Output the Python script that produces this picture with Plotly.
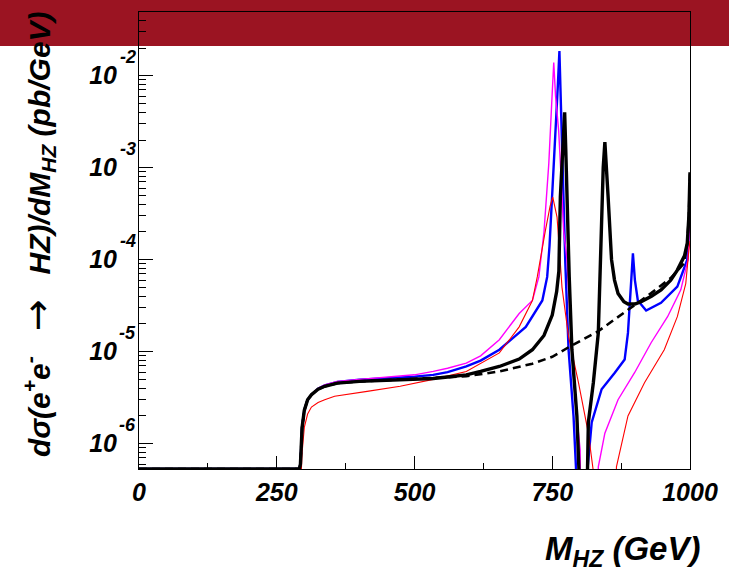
import numpy as np
import plotly.graph_objects as go

# ---------------- data ----------------
m_sm = [0, 291, 293, 296, 300, 306, 313, 325, 337, 360, 400, 450, 500, 550, 594, 654, 714, 750,
        780, 833, 893, 929, 965, 989, 995, 998, 1000]
y_sm = [0, 0, 6e-7, 1.5e-6, 2.3e-6, 3.0e-6, 3.4e-6, 3.9e-6, 4.2e-6, 4.55e-6, 4.75e-6, 4.9e-6, 5.0e-6,
        5.2e-6, 5.4e-6, 6.1e-6, 7.4e-6, 8.8e-6, 1.12e-5, 1.66e-5, 2.97e-5, 4.3e-5, 6.3e-5, 9.1e-5,
        1.5e-4, 3e-4, 8.5e-4]

m_black = [0, 291, 293, 296, 300, 306, 313, 325, 337, 360, 400, 450, 500, 534, 560, 594, 620, 654,
           690, 714, 735, 750, 758, 762, 764.7, 769, 772.5, 774.5, 776.7, 779.6, 780.8, 785.7, 794.7,
           800, 803, 806, 815.5, 824.6, 833.6, 836.5, 839.5, 842.5, 845.5, 848.5, 851.4, 857.6, 863,
           869.4, 880, 887.4, 900, 911.4, 930, 947.4, 965, 977, 990, 995, 998, 1000]
y_black = [0, 0, 6e-7, 1.5e-6, 2.3e-6, 3.0e-6, 3.4e-6, 3.9e-6, 4.2e-6, 4.55e-6, 4.75e-6, 4.9e-6,
           5.0e-6, 5.1e-6, 5.3e-6, 5.6e-6, 6.1e-6, 6.9e-6, 8.3e-6, 1.05e-5, 1.5e-5, 2.5e-5, 4.5e-5,
           7.5e-5, 4.8e-4, 1.6e-3, 4.0e-3, 1.6e-3, 4.8e-4, 1.27e-4, 6.5e-5, 1.05e-5, 2e-6, 3e-7, 1e-9,
           1e-9, 1.7e-6, 4.6e-6, 1.6e-5, 6.5e-5, 4.8e-4, 1.0e-3, 1.9e-3, 1.0e-3, 4.8e-4, 1.0e-4,
           6e-5, 4.3e-5, 3.5e-5, 3.3e-5, 3.3e-5, 3.5e-5, 4.0e-5, 4.7e-5, 6.0e-5, 7.7e-5, 1.1e-4,
           1.5e-4, 3e-4, 8.9e-4]

m_blue = [0, 291, 293, 296, 300, 306, 313, 325, 337, 360, 400, 450, 500, 534, 560, 594, 620, 654,
          680, 702, 732, 740.8, 745, 750, 755.7, 760, 763, 765.5, 767.7, 770.5, 773.7, 779.6, 788.6,
          793, 800, 810, 814.4, 821.6, 839.6, 863.5, 881.4, 887.4, 893.5, 896.4, 900, 905.3, 920.4,
          947.4, 977, 995, 998, 1000]
y_blue = [0, 0, 6e-7, 1.5e-6, 2.3e-6, 3.0e-6, 3.4e-6, 3.95e-6, 4.3e-6, 4.7e-6, 4.95e-6, 5.15e-6,
          5.35e-6, 5.6e-6, 6.0e-6, 6.9e-6, 8.0e-6, 1.05e-5, 1.45e-5, 1.86e-5, 3.6e-5, 6.5e-5,
          1.4e-4, 4.8e-4, 2.5e-3, 7.5e-3, 1.86e-2, 5.0e-3, 1.1e-3, 3.2e-4, 9.2e-5, 1.05e-5, 2e-6,
          5.6e-7, 1e-9, 1e-9, 5.6e-7, 1.7e-6, 3.9e-6, 5.9e-6, 8.2e-6, 1.6e-5, 5.5e-5, 1.17e-4,
          6e-5, 3.6e-5, 2.8e-5, 3.4e-5, 5.1e-5, 1.0e-4, 2e-4, 6.1e-4]

m_magenta = [0, 291, 293, 296, 300, 306, 313, 325, 337, 360, 400, 450, 500, 534, 560, 594, 620, 654,
             690, 714, 725.7, 735, 743.7, 749, 752.7, 756, 761.7, 766, 770.6, 776.7, 784, 791.6,
             800.6, 806, 828, 833.6, 845.5, 869.4, 899.4, 929.4, 959.3, 983.3, 996.4, 1000]
y_magenta = [0, 0, 6e-7, 1.5e-6, 2.3e-6, 3.0e-6, 3.45e-6, 4.0e-6, 4.35e-6, 4.75e-6, 5.0e-6, 5.3e-6,
             5.6e-6, 6.1e-6, 6.6e-6, 7.5e-6, 9.0e-6, 1.35e-5, 2.6e-5, 3.6e-5, 6.5e-5, 2e-4,
             1.1e-3, 5e-3, 1.39e-2, 6e-3, 2.5e-3, 8e-4, 2.1e-4, 1.0e-4, 1.5e-5, 3e-6, 8.6e-7, 1e-9,
             1e-9, 5.6e-7, 1.3e-6, 3e-6, 5.9e-6, 1.25e-5, 2.4e-5, 4.7e-5, 1e-4, 2.9e-4]

m_red = [0, 291, 293, 296, 300, 306, 313, 325, 337, 355, 414, 474, 534, 594, 654, 690, 714, 722.8,
         737.7, 746, 750.9, 755, 758.7, 764.7, 767.7, 779.6, 797.6, 815.5, 824.6, 830, 862, 866.5,
         887.4, 917.4, 953.3, 977, 992.3, 998, 1000]
y_red = [0, 0, 3e-7, 8e-7, 1.5e-6, 2.1e-6, 2.5e-6, 2.8e-6, 3.0e-6, 3.27e-6, 3.7e-6, 4.2e-6, 5.0e-6,
         6.1e-6, 9.7e-6, 1.86e-5, 3.6e-5, 6.5e-5, 2.1e-4, 3.8e-4, 4.8e-4, 3.8e-4, 2.9e-4, 9.2e-5,
         5e-5, 1.46e-5, 4.6e-6, 1.3e-6, 5e-7, 1e-9, 1e-9, 5.6e-7, 2e-6, 4.6e-6, 1.05e-5, 2.4e-5,
         5.5e-5, 1.27e-4, 1.6e-4]

x_ticks = [0, 250, 500, 750, 1000]
y_ticks = [1e-6, 1e-5, 1e-4, 1e-3, 1e-2]
y_tick_base = ["10", "10", "10", "10", "10"]
y_tick_exp = ["-6", "-5", "-4", "-3", "-2"]

YMIN, YMAX = 5.3e-7, 0.0493

# ---------------- figure ----------------
FONT = "Liberation Sans"


def floor_empty(v):
    # empty bins are drawn on the bottom of the frame, as ROOT does
    v = np.asarray(v, dtype=float)
    return np.where(v <= 0, YMIN, v)


fig = go.Figure()
series = [
    (m_blue, y_blue, dict(color="#0000ff", width=2.4)),
    (m_magenta, y_magenta, dict(color="#ff00ff", width=1.4)),
    (m_red, y_red, dict(color="#ff0000", width=1.1)),
    (m_black, y_black, dict(color="#000000", width=3.4)),
    (m_sm, y_sm, dict(color="#000000", width=2.6, dash="8px,5px")),
]
for mx, yy, ln in series:
    fig.add_trace(go.Scatter(x=mx, y=floor_empty(yy), mode="lines", line=ln,
                             showlegend=False, hoverinfo="skip"))

minor_y = [k * 10.0 ** e for e in range(-7, -1) for k in range(2, 10)]
minor_y = [v for v in minor_y if YMIN <= v <= YMAX]

tickfont = dict(family=FONT, size=25, color="black", weight="bold", style="italic")

fig.update_layout(
    width=729, height=572,
    margin=dict(l=139, r=33, t=11, b=103, pad=0),
    paper_bgcolor="white",
    plot_bgcolor="rgba(0,0,0,0)",
    showlegend=False,
    xaxis=dict(range=[0, 1000], tickvals=x_ticks, ticktext=[str(v) for v in x_ticks],
               ticks="inside", ticklen=13, tickwidth=1, tickcolor="black",
               minor=dict(dtick=125, tick0=0, ticks="inside", ticklen=6, tickcolor="black"),
               showline=True, linecolor="black", linewidth=1, mirror=True,
               showgrid=False, zeroline=False, tickfont=tickfont, ticklabelstandoff=1),
    yaxis=dict(type="log", range=[np.log10(YMIN), np.log10(YMAX)],
               tickvals=y_ticks, ticktext=y_tick_base,
               ticks="inside", ticklen=14, tickwidth=1, tickcolor="black",
               minor=dict(tickvals=minor_y, ticks="inside", ticklen=7, tickcolor="black"),
               showline=True, linecolor="black", linewidth=1, mirror=True,
               showgrid=False, zeroline=False, tickfont=tickfont, ticklabelstandoff=16),
    shapes=[dict(type="rect", xref="paper", yref="paper", x0=-0.3, x1=1.1,
                 y0=(458 - 34) / 458, y1=1.05, fillcolor="#9b1422", line=dict(width=0),
                 layer="below")],
)

# exponents of the y tick labels, raised like ROOT's 10^{n}
expfont = dict(family=FONT, size=18, color="black", weight="bold", style="italic")
for tv, ex in zip(y_ticks, y_tick_exp):
    fig.add_annotation(text=ex, xref="paper", yref="y", x=0, y=np.log10(tv),
                       xanchor="right", yanchor="middle", xshift=-1, yshift=19,
                       showarrow=False, font=expfont)

title_font = dict(family=FONT, size=30, color="black", weight="bold", style="italic")
arrow = ('<span style="font-family:DejaVu Sans;font-weight:normal;font-style:normal;'
         'font-size:38px">→</span>')
fig.add_annotation(
    text="dσ(e<sup>+</sup>e<sup>-</sup>   " + arrow + "   HZ)/dM<sub>HZ</sub> (pb/GeV)",
    xref="paper", yref="paper", x=(36 - 139) / 557, y=(469 - 8) / 458,
    xanchor="center", yanchor="top", textangle=-90, showarrow=False, font=title_font)
fig.add_annotation(
    text="M<sub>HZ</sub> (GeV)",
    xref="paper", yref="paper", x=1.0, y=-(551 - 469) / 458, xshift=12,
    xanchor="right", yanchor="middle", showarrow=False,
    font=dict(family=FONT, size=33, color="black", weight="bold", style="italic"))

fig.write_html("out.html")
